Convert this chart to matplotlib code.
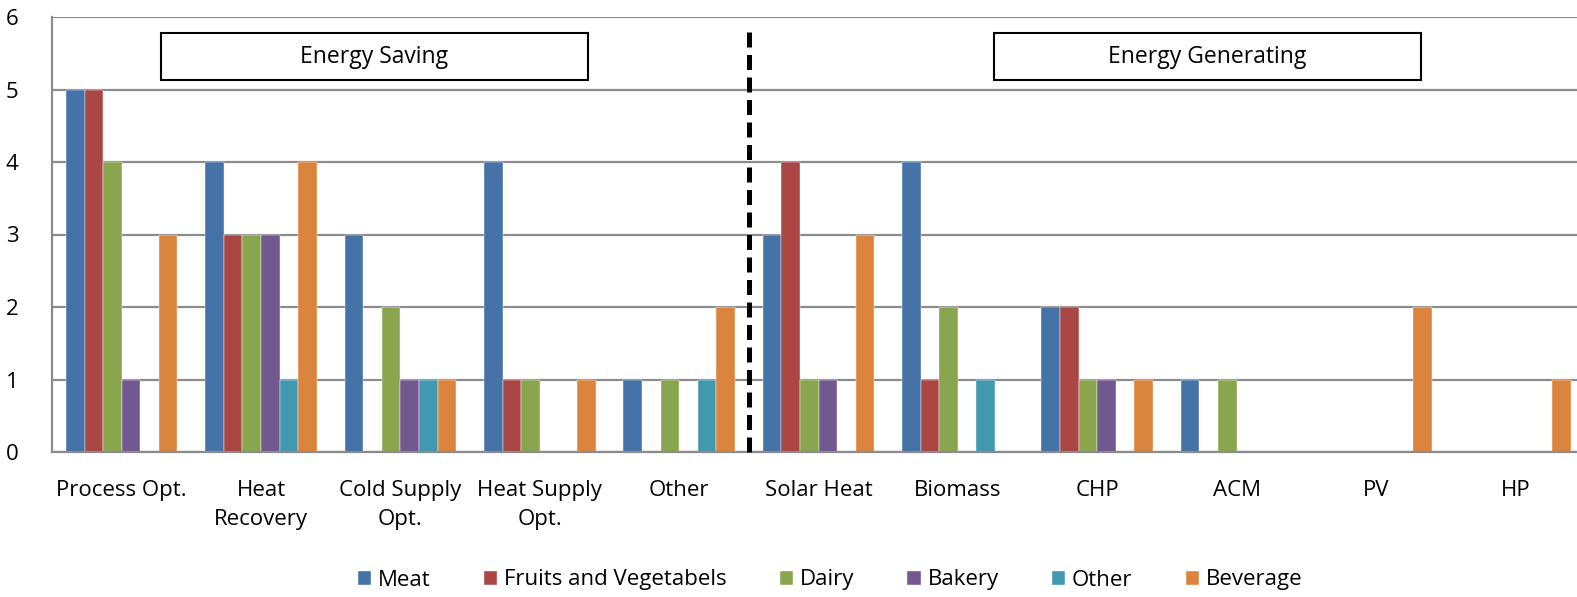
import matplotlib
matplotlib.use("Agg")
import matplotlib.pyplot as plt
from matplotlib.patches import Rectangle
import numpy as np

categories = ["Process Opt.", "Heat\nRecovery", "Cold Supply\nOpt.", "Heat Supply\nOpt.", "Other",
              "Solar Heat", "Biomass", "CHP", "ACM", "PV", "HP"]
series_names = ["Meat", "Fruits and Vegetabels", "Dairy", "Bakery", "Other", "Beverage"]
meat      = [5, 4, 3, 4, 1, 3, 4, 2, 1, 0, 0]
fruitveg  = [5, 3, 0, 1, 0, 4, 1, 2, 0, 0, 0]
dairy     = [4, 3, 2, 1, 1, 1, 2, 1, 1, 0, 0]
bakery    = [1, 3, 1, 0, 0, 1, 0, 1, 0, 0, 0]
other     = [0, 1, 1, 0, 1, 0, 1, 0, 0, 0, 0]
beverage  = [3, 4, 1, 1, 2, 3, 0, 1, 0, 2, 1]
series = [meat, fruitveg, dairy, bakery, other, beverage]
colors = ["#4572A7", "#AA4643", "#89A54E", "#71588F", "#4198AF", "#DB843D"]

plt.rcParams['font.family'] = ['Open Sans', 'DejaVu Sans']

fig = plt.figure(figsize=(15.77, 5.97), dpi=100)
ax = fig.add_axes([52/1577, 145/597, 1533/1577, 435/597])

x = np.arange(len(categories))
bw = 0.8 / 6
for i, (vals, name, c) in enumerate(zip(series, series_names, colors)):
    ax.bar(x - 0.4 + bw * (i + 0.5), vals, width=bw, color=c, label=name,
           edgecolor='white', linewidth=0.3, zorder=3)

FS = 16
ax.set_xlim(-0.5, len(categories) - 0.5)
ax.set_ylim(0, 6)
ax.set_yticks(range(0, 7))
ax.yaxis.grid(True, color='#8c8c8c', linewidth=1.6, zorder=0)
ax.set_axisbelow(True)
ax.set_xticks(x)
ax.set_xticklabels(categories, fontsize=FS, linespacing=1.5)
ax.tick_params(axis='both', length=0, labelsize=FS)
ax.tick_params(axis='x', pad=20)
ax.tick_params(axis='y', pad=24)
for s in ['top', 'right']:
    ax.spines[s].set_visible(False)
for s in ['left', 'bottom']:
    ax.spines[s].set_color('#8c8c8c')
    ax.spines[s].set_linewidth(1.6)
    ax.spines[s].set_zorder(4)

ax.plot([4.5, 4.5], [0, 5.82], color='black', linewidth=3.6, linestyle=(0, (3.0, 1.5)), zorder=5, clip_on=False)

for (x0, x1, label) in [(0.282, 3.345, "Energy Saving"), (6.258, 9.32, "Energy Generating")]:
    ax.add_patch(Rectangle((x0, 5.13), x1 - x0, 0.65, facecolor='white', edgecolor='black',
                           linewidth=1.5, zorder=6))
    ax.text((x0 + x1) / 2, 5.455, label, ha='center', va='center', fontsize=16.5, zorder=7)

fig.legend(loc='center', bbox_to_anchor=(830/1577, 1 - 580/597), ncol=6, frameon=False,
           fontsize=FS, handlelength=0.6, handleheight=0.6, handletextpad=0.3, columnspacing=2.4)

fig.savefig("out.png", dpi=100)
